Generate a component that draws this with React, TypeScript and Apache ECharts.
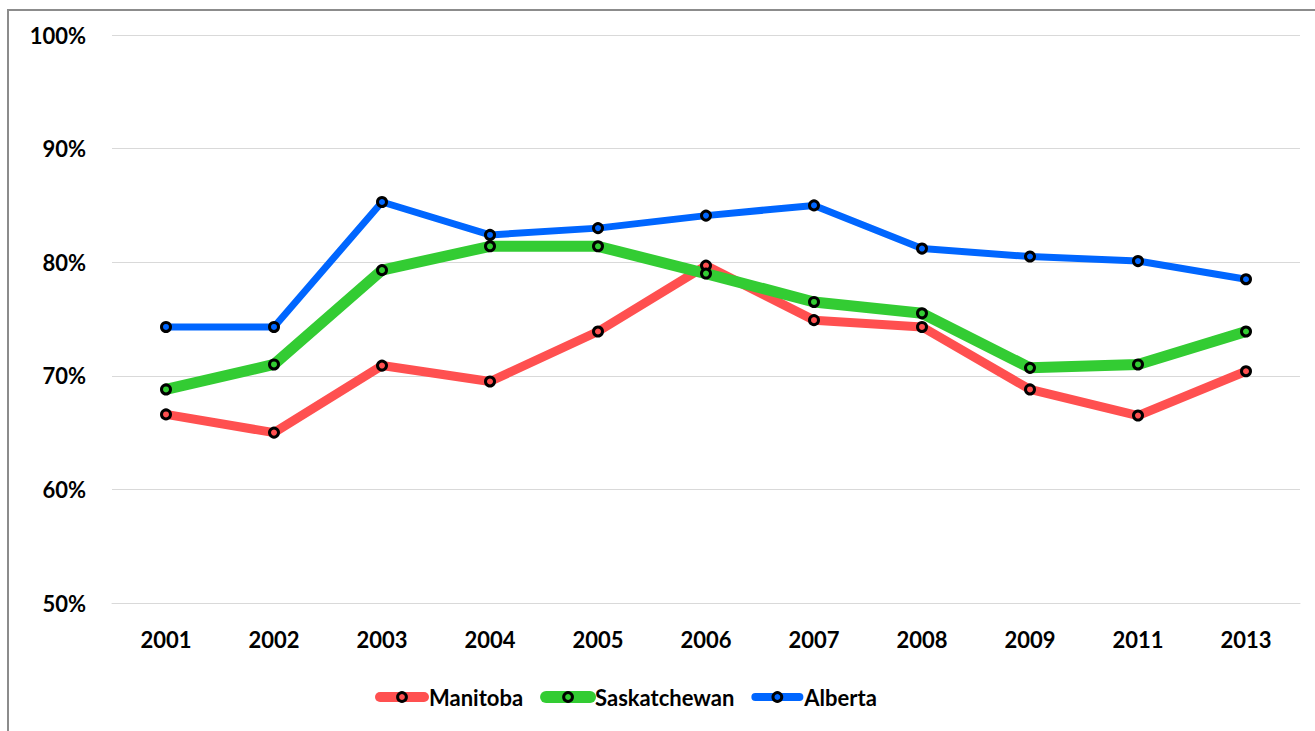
import React, { useEffect, useRef } from "react";
import * as echarts from "echarts";

const years = ["2001", "2002", "2003", "2004", "2005", "2006", "2007", "2008", "2009", "2011", "2013"];
const manitoba = [66.6, 65.0, 70.9, 69.5, 73.9, 79.7, 74.9, 74.3, 68.8, 66.5, 70.4];
const saskatchewan = [68.8, 71.0, 79.3, 81.4, 81.4, 79.0, 76.5, 75.5, 70.7, 71.0, 73.9];
const alberta = [74.3, 74.3, 85.3, 82.4, 83.0, 84.1, 85.0, 81.2, 80.5, 80.1, 78.5];

const FONT = "Lato";
const COLORS = { Manitoba: "#ff5050", Saskatchewan: "#33cc33", Alberta: "#0066ff" };
const WIDTHS = { Manitoba: 9, Saskatchewan: 11, Alberta: 7 };

export default function App() {
  const ref = useRef<HTMLDivElement>(null);
  useEffect(() => {
    if (!ref.current) return;
    const chart = echarts.init(ref.current, undefined, { renderer: "svg" });
    const mk = (name: string, data: number[]) => ({
      name,
      type: "line",
      data,
      symbol: "circle",
      symbolSize: 9,
      color: COLORS[name],
      lineStyle: { color: COLORS[name], width: WIDTHS[name], cap: "round", join: "round" },
      itemStyle: { color: COLORS[name], borderColor: "#000", borderWidth: 3 },
      emphasis: { disabled: true },
    });
    const names = ["Manitoba", "Saskatchewan", "Alberta"];
    chart.setOption({
      animation: false,
      backgroundColor: "#fff",
      graphic: [
        {
          type: "rect",
          shape: { x: 8, y: 10, width: 1330, height: 760 },
          style: { fill: "none", stroke: "#8c8c8c", lineWidth: 2 },
          silent: true,
        },
      ],
      grid: { left: 112, right: 15, top: 35, bottom: 128, containLabel: false },
      xAxis: {
        type: "category",
        data: years,
        boundaryGap: true,
        axisLine: { show: true, lineStyle: { color: "#d9d9d9", width: 1 } },
        axisTick: { show: false },
        axisLabel: { color: "#000", fontFamily: FONT, fontWeight: "bold", fontSize: 22, margin: 25 },
      },
      yAxis: {
        type: "value",
        min: 50,
        max: 100,
        interval: 10,
        axisLine: { show: false },
        axisTick: { show: false },
        splitLine: { lineStyle: { color: "#d9d9d9", width: 1 } },
        axisLabel: {
          color: "#000",
          fontFamily: FONT,
          fontWeight: "bold",
          fontSize: 22,
          margin: 26,
          formatter: (v: number) => v + "%",
        },
      },
      legend: {
        left: 370,
        top: 681,
        itemWidth: 44,
        itemHeight: 11,
        itemGap: 17,
        textStyle: { color: "#000", fontFamily: FONT, fontWeight: "bold", fontSize: 22 },
        data: names.map((n) => ({
          name: n,
          lineStyle: { width: WIDTHS[n] + 1, color: COLORS[n], cap: "round" },
          itemStyle: { color: COLORS[n], borderColor: "#000", borderWidth: 3 },
        })),
      },
      series: [mk("Manitoba", manitoba), mk("Saskatchewan", saskatchewan), mk("Alberta", alberta)],
    });
    return () => chart.dispose();
  }, []);
  return (
    <div
      ref={ref}
      style={{ position: "absolute", left: 0, top: 0, width: 1315, height: 731 }}
    />
  );
}
